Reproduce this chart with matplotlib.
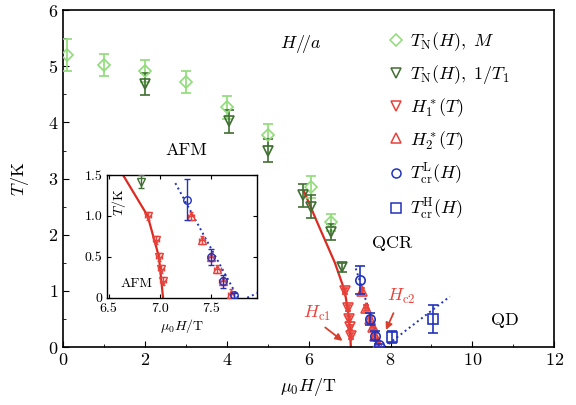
import matplotlib
matplotlib.use("Agg")
import matplotlib.pyplot as plt
from matplotlib.lines import Line2D
from matplotlib.ticker import MultipleLocator

plt.rcParams['font.family'] = 'serif'
plt.rcParams['font.serif'] = ['cmr10', 'DejaVu Serif']
plt.rcParams['mathtext.fontset'] = 'cm'
plt.rcParams['axes.formatter.use_mathtext'] = True
plt.rcParams['axes.unicode_minus'] = False

# ---------------- data ----------------
# T_N(H) from magnetization (light green diamonds)
tnm_H = [0.1, 1.0, 2.0, 3.0, 4.0, 5.0, 6.05, 6.55]
tnm_T = [5.2, 5.02, 4.92, 4.72, 4.27, 3.78, 2.85, 2.22]
tnm_err = [0.28, 0.2, 0.2, 0.2, 0.2, 0.2, 0.2, 0.15]

# T_N(H) from 1/T1 (dark green inverted triangles)
tnt_H = [2.0, 4.05, 5.0, 5.85, 6.05, 6.55, 6.82]
tnt_T = [4.68, 4.02, 3.5, 2.7, 2.5, 2.05, 1.42]
tnt_err = [0.2, 0.2, 0.2, 0.2, 0.2, 0.15, 0.08]

# H1*(T) (red inverted triangles)
h1_H = [6.88, 6.96, 6.99, 7.01, 7.03]
h1_T = [1.0, 0.7, 0.5, 0.35, 0.2]

# H2*(T) (red triangles)
h2_H = [7.30, 7.41, 7.50, 7.56, 7.61, 7.69]
h2_T = [1.0, 0.7, 0.5, 0.35, 0.2, 0.05]

# T_cr^L(H) (blue circles)
tcl_H = [7.26, 7.50, 7.61, 7.72]
tcl_T = [1.2, 0.5, 0.2, 0.03]
tcl_err = [0.25, 0.1, 0.08, 0.03]

# T_cr^H(H) (blue squares)
tch_H = [8.03, 9.05]
tch_T = [0.18, 0.5]
tch_err = [0.1, 0.25]

# guide lines
red_line_H = [5.88, 6.22, 6.64, 6.88, 6.99, 7.03]
red_line_T = [2.78, 2.2, 1.5, 1.0, 0.5, 0.0]
blue_l_H = [7.15, 7.76]
blue_l_T = [1.4, 0.0]
blue_h_H = [7.85, 9.45]
blue_h_T = [0.0, 0.9]

c_lg = '#8fdc78'
c_dg = '#3f6e32'
c_red = '#e8423a'
c_blue = '#2233bb'
c_line = '#dd2a22'

fig = plt.figure(figsize=(5.76, 4.05), dpi=100)
ax = fig.add_axes([0.110, 0.143, 0.852, 0.832])


def draw(a, ms, cap, lw):
    a.plot(red_line_H, red_line_T, '-', color=c_line, lw=1.6, zorder=2)
    a.plot(blue_l_H, blue_l_T, ':', color=c_blue, lw=1.4, zorder=2)
    a.plot(blue_h_H, blue_h_T, ':', color=c_blue, lw=1.4, zorder=2)
    a.errorbar(tnm_H, tnm_T, yerr=tnm_err, fmt='D', ms=ms * 0.85, mfc='none',
               mec=c_lg, ecolor=c_lg, capsize=cap, mew=lw, elinewidth=lw, zorder=3)
    a.errorbar(tnt_H, tnt_T, yerr=tnt_err, fmt='v', ms=ms, mfc='none',
               mec=c_dg, ecolor=c_dg, capsize=cap, mew=lw, elinewidth=lw, zorder=3)
    a.errorbar(h1_H, h1_T, xerr=0.03, yerr=0.05, fmt='v', ms=ms, mfc='none',
               mec=c_red, ecolor=c_red, capsize=cap * 0.6, mew=lw, elinewidth=lw, zorder=4)
    a.errorbar(h2_H, h2_T, xerr=0.03, yerr=0.05, fmt='^', ms=ms, mfc='none',
               mec=c_red, ecolor=c_red, capsize=cap * 0.6, mew=lw, elinewidth=lw, zorder=4)
    a.errorbar(tcl_H, tcl_T, yerr=tcl_err, fmt='o', ms=ms * 0.9, mfc='none',
               mec=c_blue, ecolor=c_blue, capsize=cap, mew=lw, elinewidth=lw, zorder=5)
    a.errorbar(tch_H, tch_T, yerr=tch_err, fmt='s', ms=ms * 0.9, mfc='none',
               mec=c_blue, ecolor=c_blue, capsize=cap, mew=lw, elinewidth=lw, zorder=5)


draw(ax, 7.5, 3.5, 1.2)
ax.set_xlim(0, 12)
ax.set_ylim(0, 6)
ax.xaxis.set_major_locator(MultipleLocator(2))
ax.xaxis.set_minor_locator(MultipleLocator(1))
ax.yaxis.set_major_locator(MultipleLocator(1))
ax.yaxis.set_minor_locator(MultipleLocator(0.5))
ax.tick_params(which='both', direction='in', labelsize=13, top=False, right=False)
ax.tick_params(which='major', length=4)
ax.tick_params(which='minor', length=2.5)
for s in ax.spines.values():
    s.set_linewidth(1.2)
ax.set_xlabel(r'$\mu_0H/\mathrm{T}$', fontsize=13, labelpad=6)
ax.set_ylabel(r'$T/\mathrm{K}$', fontsize=13, labelpad=12)

ax.text(5.8, 5.4, r'$H/\!/a$', fontsize=13, ha='center', va='center')
ax.text(3.0, 3.5, 'AFM', fontsize=13, ha='center', va='center')
ax.text(8.05, 1.85, 'QCR', fontsize=13, ha='center', va='center')
ax.text(10.8, 0.48, 'QD', fontsize=13, ha='center', va='center')
ax.text(6.2, 0.6, r'$H_{\rm c1}$', fontsize=13, color=c_red, ha='center', va='center')
ax.text(8.25, 0.9, r'$H_{\rm c2}$', fontsize=13, color=c_red, ha='center', va='center')
ax.annotate('', xy=(6.88, 0.08), xytext=(6.35, 0.38),
            arrowprops=dict(arrowstyle='-|>', color='#d8402e', lw=1.3, mutation_scale=10))
ax.annotate('', xy=(7.86, 0.26), xytext=(8.1, 0.65),
            arrowprops=dict(arrowstyle='-|>', color='#d8402e', lw=1.3, mutation_scale=10))

handles = [
    Line2D([], [], ls='none', marker='D', ms=6.5, mfc='none', mec=c_lg, mew=1.1),
    Line2D([], [], ls='none', marker='v', ms=7.5, mfc='none', mec=c_dg, mew=1.1),
    Line2D([], [], ls='none', marker='v', ms=7.5, mfc='none', mec=c_red, mew=1.1),
    Line2D([], [], ls='none', marker='^', ms=7.5, mfc='none', mec=c_red, mew=1.1),
    Line2D([], [], ls='none', marker='o', ms=6.5, mfc='none', mec=c_blue, mew=1.1),
    Line2D([], [], ls='none', marker='s', ms=6.5, mfc='none', mec=c_blue, mew=1.1),
]
labels = [r'$T_{\rm N}(H),\ M$', r'$T_{\rm N}(H),\ 1/T_1$', r'$H_1^*(T)$',
          r'$H_2^*(T)$', r'$T_{\rm cr}^{\rm L}(H)$', r'$T_{\rm cr}^{\rm H}(H)$']
ax.legend(handles, labels, loc='upper left', bbox_to_anchor=(0.655, 0.95),
          frameon=False, fontsize=13, handlelength=0.8, handletextpad=0.4,
          labelspacing=0.55, borderpad=0.2, borderaxespad=0)

# ---------------- inset ----------------
ins = fig.add_axes([0.185, 0.265, 0.262, 0.303])
draw(ins, 6, 2.5, 1.0)
ins.set_xlim(6.48, 7.95)
ins.set_ylim(0, 1.5)
ins.set_xticks([6.5, 7.0, 7.5])
ins.set_xticklabels(['6.5', '7.0', '7.5'])
ins.set_yticks([0, 0.5, 1.0, 1.5])
ins.set_yticklabels(['0', '0.5', '1.0', '1.5'])
ins.tick_params(which='both', direction='in', labelsize=10, top=True, right=True,
                length=3)
ins.tick_params(axis='x', pad=4)
ins.tick_params(axis='y', pad=3)
for s in ins.spines.values():
    s.set_linewidth(1.0)
ins.set_xlabel(r'$\mu_0H/\mathrm{T}$', fontsize=10, labelpad=1)
ins.text(0.08, 0.78, r'$T/\mathrm{K}$', transform=ins.transAxes, rotation=90,
         fontsize=10, ha='center', va='center')
ins.text(0.2, 0.11, 'AFM', transform=ins.transAxes, fontsize=10,
         ha='center', va='center')

fig.savefig('out.png', dpi=100)
